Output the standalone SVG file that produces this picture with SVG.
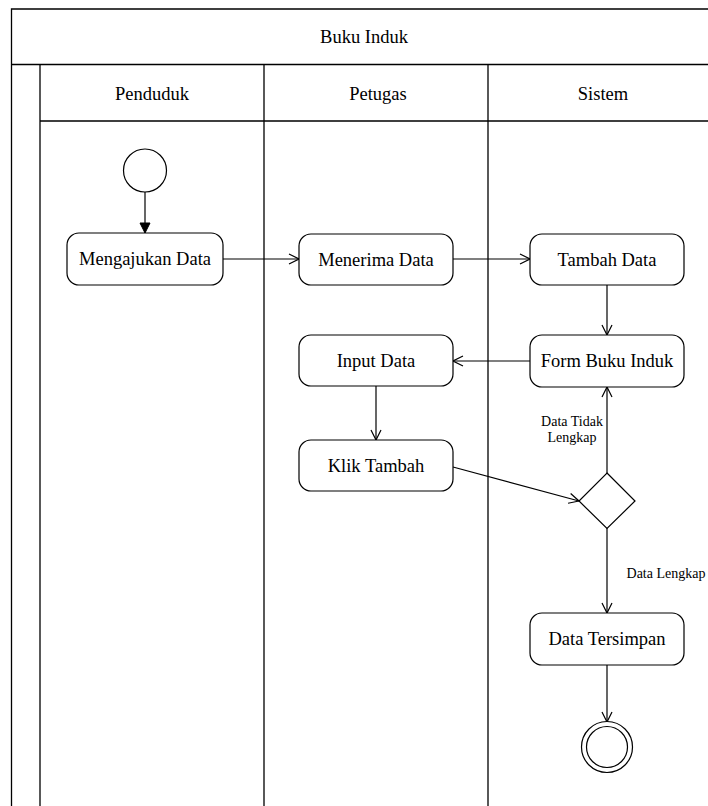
<svg xmlns="http://www.w3.org/2000/svg" width="708" height="806" viewBox="0 0 708 806">
<style>
.frame{fill:none;stroke:#000;stroke-width:1.3}
.node rect{fill:#fff;stroke:#000;stroke-width:1.2}
.t{font-family:"Liberation Serif","Times New Roman",serif;font-size:18.5px;fill:#000;text-anchor:middle;dominant-baseline:central}
.s{font-family:"Liberation Serif","Times New Roman",serif;font-size:14px;fill:#000;text-anchor:middle}
.e{fill:none;stroke:#000;stroke-width:1.2}
</style>
<defs>
<marker id="open" viewBox="0 0 12 12" refX="11" refY="6" markerWidth="12" markerHeight="12" markerUnits="userSpaceOnUse" orient="auto">
<path d="M1,1 L11,6 L1,11" fill="none" stroke="#000" stroke-width="1.2"/>
</marker>
<marker id="block" viewBox="0 0 12 12" refX="11" refY="6" markerWidth="12" markerHeight="12" markerUnits="userSpaceOnUse" orient="auto">
<path d="M1,1 L11,6 L1,11 Z" fill="#000" stroke="#000" stroke-width="1"/>
</marker>
</defs>
<rect width="708" height="806" fill="#fff"/>
<g id="pool">
<path class="frame" d="M11.5,806 V9 H708 M11.5,64.5 H708 M40,64.5 V806 M40,121 H708 M264,64.5 V806 M488,64.5 V806"/>
<text class="t" x="364" y="37">Buku Induk</text>
<text class="t" x="152" y="94">Penduduk</text>
<text class="t" x="378" y="94">Petugas</text>
<text class="t" x="603" y="94">Sistem</text>
</g>
<g id="connectors">
<path class="e" d="M145,192 V233" marker-end="url(#block)"/>
<path class="e" d="M223,259 H299" marker-end="url(#open)"/>
<path class="e" d="M453,259 H530" marker-end="url(#open)"/>
<path class="e" d="M607,285 V335" marker-end="url(#open)"/>
<path class="e" d="M530,361 H453" marker-end="url(#open)"/>
<path class="e" d="M376,386 V440" marker-end="url(#open)"/>
<path class="e" d="M453,467 L579,501" marker-end="url(#open)"/>
<path class="e" d="M607,473 V387" marker-end="url(#open)"/>
<path class="e" d="M607,528 V613" marker-end="url(#open)"/>
<path class="e" d="M607,665 V722" marker-end="url(#open)"/>
<text class="s" x="572" y="426">Data Tidak</text>
<text class="s" x="572" y="442">Lengkap</text>
<text class="s" x="666" y="578">Data Lengkap</text>
</g>
<g id="start"><circle cx="145" cy="170.5" r="21.5" fill="#fff" stroke="#000" stroke-width="1.2"/></g>
<g id="mengajukan" class="node"><rect x="67" y="233" width="156" height="52" rx="12"/><text class="t" x="145" y="259">Mengajukan Data</text></g>
<g id="menerima" class="node"><rect x="299" y="234" width="154" height="51" rx="12"/><text class="t" x="376" y="259.5">Menerima Data</text></g>
<g id="tambah" class="node"><rect x="530" y="234" width="154" height="51" rx="12"/><text class="t" x="607" y="259.5">Tambah Data</text></g>
<g id="form" class="node"><rect x="530" y="335" width="154" height="52" rx="12"/><text class="t" x="607" y="361">Form Buku Induk</text></g>
<g id="input" class="node"><rect x="299" y="335" width="154" height="51" rx="12"/><text class="t" x="376" y="361">Input Data</text></g>
<g id="klik" class="node"><rect x="299" y="440" width="154" height="51" rx="12"/><text class="t" x="376" y="466">Klik Tambah</text></g>
<g id="decision"><path d="M607,473 L635,501 L607,528.5 L579,501 Z" fill="#fff" stroke="#000" stroke-width="1.2"/></g>
<g id="tersimpan" class="node"><rect x="530" y="613" width="154" height="52" rx="12"/><text class="t" x="607" y="639">Data Tersimpan</text></g>
<g id="end"><circle cx="607" cy="747" r="25.5" fill="#fff" stroke="#000" stroke-width="1.2"/><circle cx="607" cy="747" r="20.5" fill="none" stroke="#000" stroke-width="1.2"/></g>
</svg>
